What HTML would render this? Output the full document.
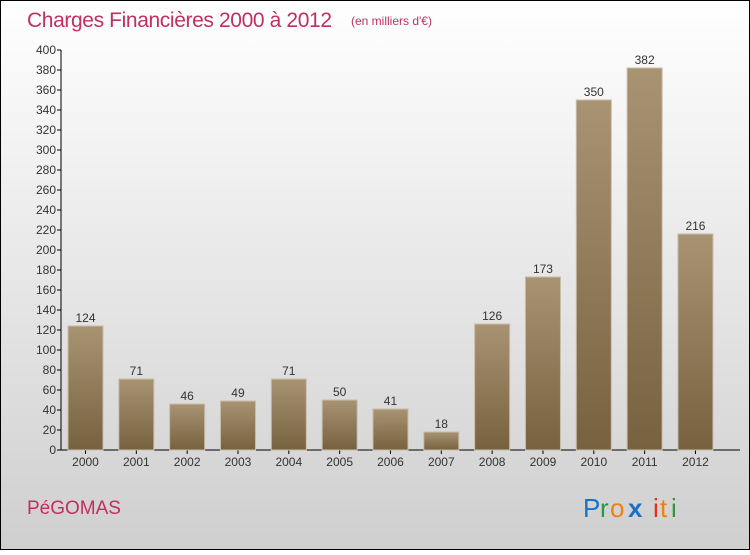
<!DOCTYPE html>
<html><head><meta charset="utf-8"><style>
body{margin:0;width:750px;height:550px;overflow:hidden;font-family:"Liberation Sans",sans-serif}
</style></head><body>
<svg width="750" height="550" xmlns="http://www.w3.org/2000/svg">
<defs>
<linearGradient id="bg" x1="0" y1="0" x2="0" y2="1"><stop offset="0" stop-color="#ffffff"/><stop offset="1" stop-color="#cfcfcf"/></linearGradient>
<linearGradient id="bar" x1="0" y1="0" x2="0" y2="1"><stop offset="0" stop-color="#a89472"/><stop offset="1" stop-color="#76623f"/></linearGradient>
</defs>
<rect x="0.5" y="0.5" width="749" height="549" fill="url(#bg)" stroke="#000"/>
<text x="27" y="27" font-size="21" fill="#c0305f" textLength="305">Charges Financières 2000 à 2012</text>
<text x="351" y="25" font-size="12" fill="#c0305f">(en milliers d'€)</text>
<g id="axes"></g><g id="bars"></g>
<text x="27" y="514" font-size="19" fill="#c0305f">PéGOMAS</text>
<g font-size="26">
<text x="583" y="517" fill="#1a70c8">P</text><text x="600" y="517" fill="#2a9a3a">r</text><text x="610" y="517" fill="#f08010">o</text><text x="628" y="517" fill="#1a70c8" font-weight="bold">x</text><text x="653" y="517" fill="#e03020">i</text><text x="660" y="517" fill="#f08010">t</text><text x="671" y="517" fill="#2a9a3a">i</text></g>
</svg>
<script>
const categories=["2000","2001","2002","2003","2004","2005","2006","2007","2008","2009","2010","2011","2012"];
const values=[124,71,46,49,71,50,41,18,126,173,350,382,216];
const yTicks=[0,20,40,60,80,100,120,140,160,180,200,220,240,260,280,300,320,340,360,380,400];
const NS="http://www.w3.org/2000/svg";
const y=v=>450-v*1.0, x=i=>68+i*50.83, bw=35;
function mk(t,a,p){const e=document.createElementNS(NS,t);for(const k in a)e.setAttribute(k,a[k]);p.appendChild(e);return e;}
const ax=document.getElementById('axes'),bs=document.getElementById('bars');
const yl=mk('line',{x1:61,y1:50,x2:61,y2:450,stroke:'#000'},ax);


const xl=mk('line',{x1:61,y1:450,x2:740,y2:450,stroke:'#000'},ax);


yTicks.forEach(t=>{
 mk('line',{x1:57,x2:61,y1:y(t),y2:y(t),stroke:'#000'},ax);
 const tx=mk('text',{x:56,y:y(t)+4,'font-size':12,'text-anchor':'end',fill:'#333'},ax);tx.textContent=t;
 
 
});
categories.forEach((c,i)=>{
 const cx=x(i)+bw/2;
 mk('line',{x1:cx,x2:cx,y1:450,y2:454,stroke:'#000'},ax);
 const tx=mk('text',{x:cx,y:466,'font-size':12,'text-anchor':'middle',fill:'#333'},ax);tx.textContent=c;
 
 
 const r=mk('rect',{x:x(i),y:y(values[i]),width:bw,height:450-y(values[i]),fill:'url(#bar)',stroke:'#c8bca8','stroke-width':1},bs);
 
 
 const vl=mk('text',{x:cx,y:y(values[i])-4,'font-size':12,'text-anchor':'middle',fill:'#333'},bs);vl.textContent=values[i];
 
 
});
</script>
</body></html>
